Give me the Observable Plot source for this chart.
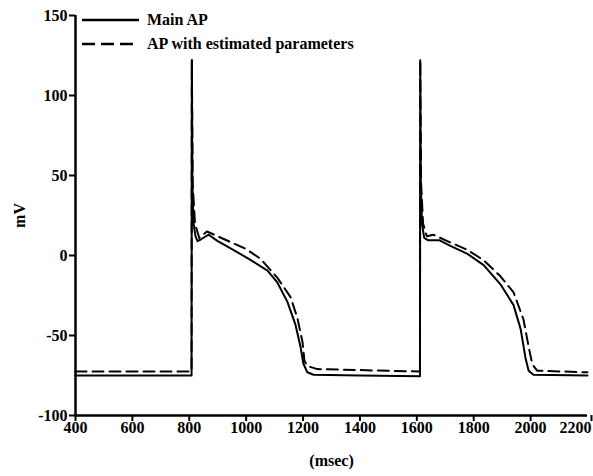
<!DOCTYPE html>
<html>
<head>
<meta charset="utf-8">
<script src="https://cdn.jsdelivr.net/npm/d3@7"></script>
<script src="https://cdn.jsdelivr.net/npm/@observablehq/plot@0.6"></script>
<style>
  body { margin: 0; background: #fff; }
  #wrap { position: relative; width: 593px; height: 476px; font-family: "Liberation Serif", serif; }
  #legend { position: absolute; left: 82px; top: 8px; font: bold 16px "Liberation Serif", serif; }
  #legend .row { display: flex; align-items: center; height: 24px; }
  #legend svg { margin-right: 8px; }
</style>
</head>
<body>
<div id="wrap"><div id="legend"></div></div>
<script>
// Time (msec) and membrane potential (mV)
const mainT = [400, 808, 809, 811, 815, 822, 829, 840, 868, 900, 950, 1015, 1075, 1110, 1145, 1173, 1191, 1201, 1215, 1237, 1400, 1611,
               1612, 1614, 1618, 1626, 1640, 1680, 1718, 1778, 1835, 1894, 1940, 1965, 1982, 1993, 2010, 2200];
const mainV = [-75, -75, 122, 45, 20, 12, 9, 10, 13, 9, 4, -2.7, -9.4, -17, -29, -43, -57, -67.5, -73, -74.5, -75, -75.5,
               122, 45, 20, 11, 9.5, 9.5, 6, 1, -6, -18, -31, -46, -64, -72, -74.5, -75];
const estT = [400, 808, 809, 812, 820, 835, 862, 900, 1000, 1050, 1110, 1156, 1180, 1198, 1205, 1215, 1250, 1611,
              1612, 1615, 1622, 1635, 1658, 1720, 1778, 1835, 1894, 1940, 1975, 1993, 2006, 2023, 2200];
const estV = [-72.5, -72.5, 122, 45, 20, 11, 15, 12, 4, -2, -14, -26, -39, -54, -66, -69, -71, -72.5,
              122, 45, 20, 12, 13, 8, 3.5, -3, -13, -23, -40, -57, -68, -72, -73];
const seriesNames = ["Main AP", "AP with estimated parameters"];
const xTicks = [400, 600, 800, 1000, 1200, 1400, 1600, 1800, 2000, 2200];
const yTicks = [-100, -50, 0, 50, 100, 150];

const mainData = mainT.map((t, i) => ({t, v: mainV[i]}));
const estData = estT.map((t, i) => ({t, v: estV[i]}));
const lastTick = xTicks[xTicks.length - 1];

const chart = Plot.plot({
  width: 593,
  height: 476,
  marginLeft: 75,
  marginRight: 6,
  marginTop: 15,
  marginBottom: 61,
  style: {fontFamily: "Liberation Serif, serif", fontSize: "16px", fontWeight: "bold", color: "#000", background: "#fff"},
  x: {domain: [400, 2200]},
  y: {domain: [-100, 150]},
  marks: [
    Plot.axisX({ticks: xTicks.slice(0, -1), tickSize: 6, tickPadding: 0, tickFormat: d => String(d), strokeWidth: 2, label: "(msec)", labelAnchor: "center", labelArrow: "none", labelOffset: 50}),
    Plot.axisX({ticks: [lastTick], tickSize: 6, tickPadding: 0, tickFormat: d => String(d), strokeWidth: 2, textAnchor: "end", dx: 4, label: null}),
    Plot.axisY({ticks: yTicks, tickSize: 6, tickPadding: 2, tickFormat: d => String(d), strokeWidth: 2, label: "mV", labelAnchor: "center", labelArrow: "none", labelOffset: 62}),
    Plot.ruleX([400], {stroke: "#000", strokeWidth: 2.5}),
    Plot.ruleY([-100], {stroke: "#000", strokeWidth: 2.5}),
    Plot.line(estData, {x: "t", y: "v", stroke: "#000", strokeWidth: 2, strokeDasharray: "11,6"}),
    Plot.line(mainData, {x: "t", y: "v", stroke: "#000", strokeWidth: 2})
  ]
});
document.getElementById("wrap").prepend(chart);

const legend = document.getElementById("legend");
seriesNames.forEach((name, i) => {
  const row = document.createElement("div");
  row.className = "row";
  row.innerHTML = `<svg width="57" height="4"><line x1="0" y1="2" x2="57" y2="2" stroke="#000" stroke-width="2.5" ${i === 1 ? 'stroke-dasharray="13,6"' : ''}/></svg><span>${name}</span>`;
  legend.appendChild(row);
});
</script>
</body>
</html>
